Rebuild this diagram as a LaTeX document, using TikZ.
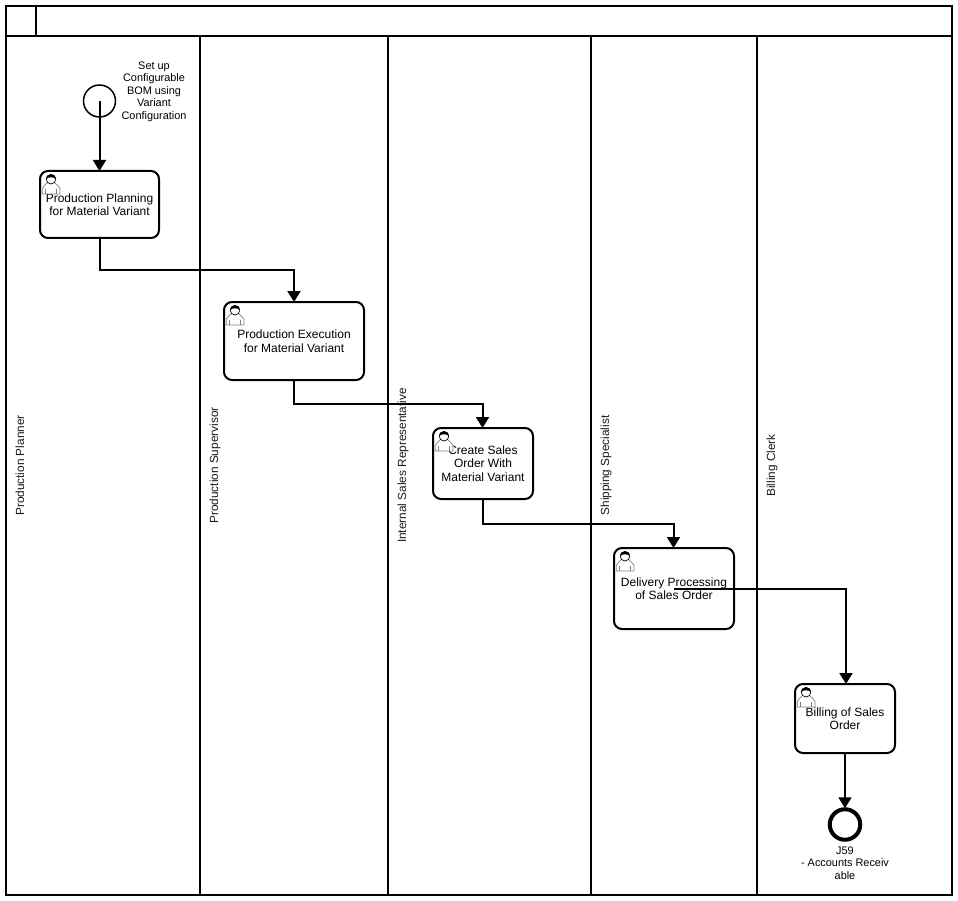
\documentclass[tikz,border=0pt]{standalone}
\usepackage{fontspec}
\setmainfont{Liberation Sans}
\usetikzlibrary{arrows.meta}

\begin{document}
\begin{tikzpicture}
    [
      x=1pt,y=-1pt,
      font=\fontsize{12}{13.5}\selectfont,
      lane/.style={draw=black,line width=2pt,inner sep=0pt,minimum height=#1},
      lane/.default=859pt,
      lanename/.style={rotate=90,inner sep=0pt,text=black!90,font=\fontsize{11.8}{13.5}\selectfont},
      usertask/.style={draw=black,line width=2pt,rounded corners=8pt,align=center,inner sep=0pt},
      startevent/.style={circle,draw=black,line width=1.5pt,minimum size=32pt,inner sep=0pt},
      endevent/.style={circle,draw=black,line width=4pt,minimum size=30.5pt,inner sep=0pt},
      eventname/.style={align=center,inner sep=0pt,font=\fontsize{10.9}{12.4}\selectfont},
      post/.style={-{Triangle[length=11pt,width=13pt]},line width=2pt,draw=black,shorten >=-1pt},
      elbow/.style={to path={-- ++(0,#1) -| (\tikztotarget)}},
      usericon/.pic={
        \draw [black!50,fill=white,line width=.7pt] (0.3,20) -- (0.3,14.5) .. controls (0.8,11.5) and (4,11) .. (5.5,8.5)
          -- (12.5,8.5) .. controls (14,11) and (17.5,11.5) .. (18,14.5) -- (18,20) -- cycle;
        \draw [black!50,line width=.7pt] (3.8,15) -- (3.8,20) (14.5,15) -- (14.5,20);
        \draw [black,fill=white,line width=.7pt] (9,5.2) circle (4.8);
        \fill [black] (4.2,5.2) .. controls (4.2,-1.2) and (13.8,-1.2) .. (13.8,5.2) .. controls (12,2.6) and (6,2.6) .. (4.2,5.2) -- cycle;
      },
    ]

    \useasboundingbox (0,0) rectangle (958,901);

    % pool and header
    \node (header) [lane=30pt,minimum width=946pt] at (479,21) {};
    \node (header-box) [lane=30pt,minimum width=30pt] at (21,21) {};

    % lanes
    \node (lane-planner) [lane,minimum width=194pt] at (103,465.5) {};
    \node (lane-supervisor) [lane,minimum width=188pt] at (294,465.5) {};
    \node (lane-sales) [lane,minimum width=203pt] at (489.5,465.5) {};
    \node (lane-shipping) [lane,minimum width=166pt] at (674,465.5) {};
    \node (lane-billing) [lane,minimum width=195pt] at (854.5,465.5) {};

    \node (name-planner) [lanename] at (20,465.5) {Production Planner};
    \node (name-supervisor) [lanename] at (215,465.5) {Production Supervisor};
    \node (name-sales) [lanename] at (403,465.5) {Internal Sales Representative};
    \node (name-shipping) [lanename] at (606,465.5) {Shipping Specialist};
    \node (name-billing) [lanename] at (772,465.5) {Billing Clerk};

    % events
    \node (start) [startevent] at (99.5,101) {};
    \node (start-name) [eventname] at (154,91.7) {Set up\\Configurable\\BOM using\\Variant\\Configuration};
    \node (end) [endevent] at (845,824.5) {};
    \node (end-name) [eventname] at (845,863) {J59\\- Accounts Receiv\\able};

    % tasks
    \node (planning) [usertask,minimum width=119pt,minimum height=67pt] at (99.5,204.5) {Production Planning\\for Material Variant};
    \node (execution) [usertask,minimum width=140pt,minimum height=78pt] at (294,341) {Production Execution\\for Material Variant};
    \node (create) [usertask,minimum width=100pt,minimum height=71pt] at (483,463.5) {Create Sales\\Order With\\Material Variant};
    \node (delivery) [usertask,minimum width=120pt,minimum height=81pt] at (674,588.5) {Delivery Processing\\of Sales Order};
    \node (billing) [usertask,minimum width=100pt,minimum height=69pt] at (845,718.5) {Billing of Sales\\Order};

    \foreach \task in {planning,execution,create,delivery,billing}
      \pic (\task-user) at ([shift={(3,4)}]\task.north west) {usericon};

    \path
    (start.center) edge [post] (planning.north)

    (planning.south) edge [post,elbow=31] (execution.north)
    (execution.south) edge [post,elbow=23] ([xshift=-.5pt]create.north)
    (create.south) edge [post,elbow=24] ([xshift=-.5pt]delivery.north)
    (delivery.center) edge [post,elbow=0] ([xshift=1pt]billing.north)

    (billing.south) edge [post] (end.north)
    ;

  \end{tikzpicture}
\end{document}
